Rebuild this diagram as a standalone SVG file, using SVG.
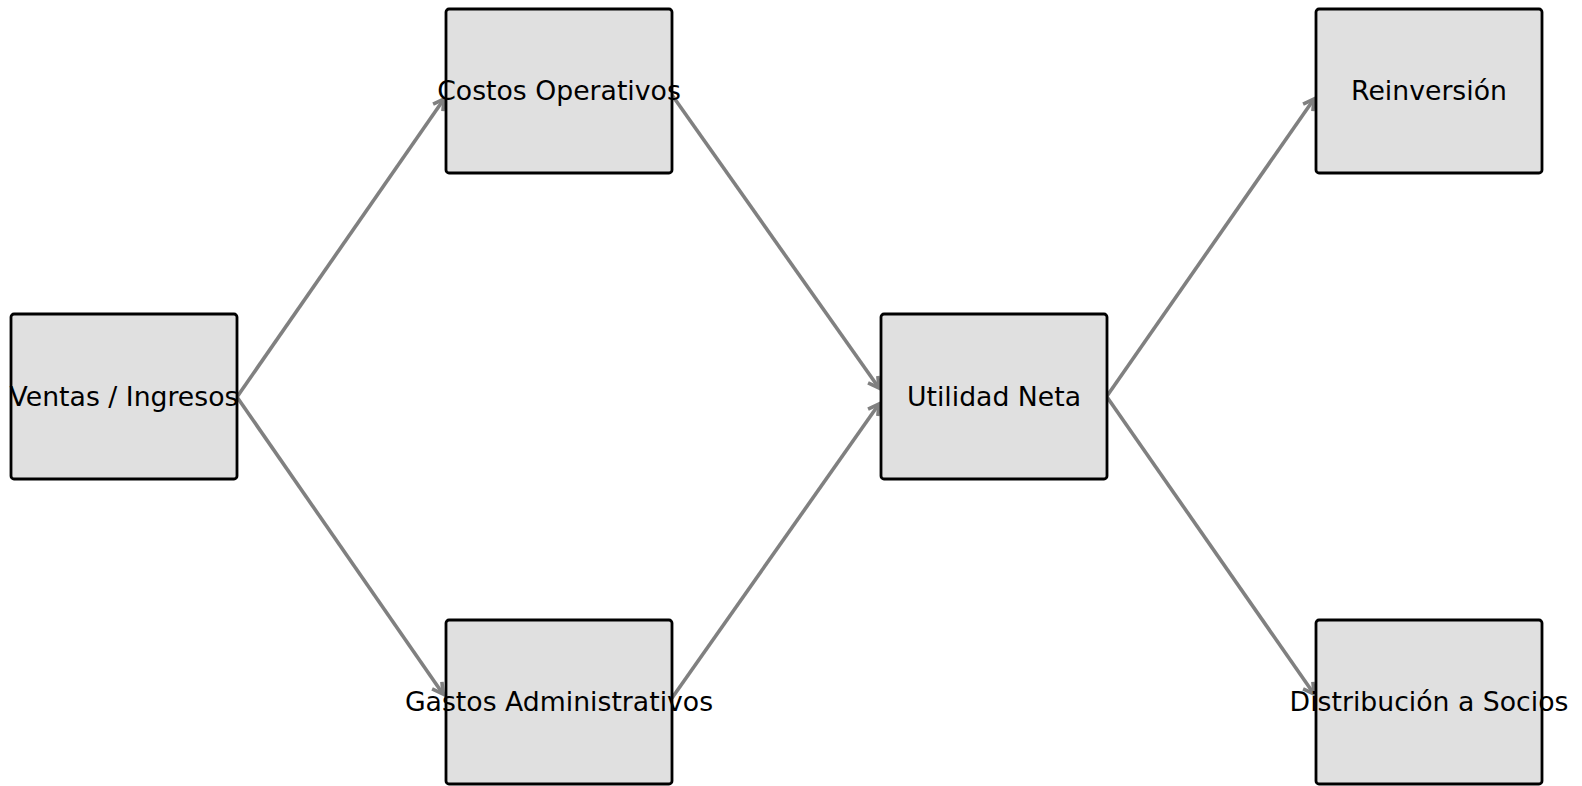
<svg xmlns="http://www.w3.org/2000/svg" width="1582" height="786" viewBox="0 0 1582 786">
<style>
.box{fill:#e0e0e0;stroke:#000;stroke-width:2.8}
.lbl{font-family:"DejaVu Sans",sans-serif;font-size:26.7px;fill:#000;text-anchor:middle}
.edge{stroke:#808080;stroke-width:3.6;fill:none;marker-end:url(#arr)}
</style>
<defs>
<marker id="arr" markerUnits="userSpaceOnUse" markerWidth="18" markerHeight="18" viewBox="-14 -9 18 18" refX="0" refY="0" orient="auto">
<path d="M-10.5,-6 L0,0 L-10.5,6" fill="none" stroke="#808080" stroke-width="3.6" stroke-linejoin="miter"/>
</marker>
</defs>
<rect width="1582" height="786" fill="#fff"/>
<g id="connectors">
<line class="edge" x1="237" y1="397" x2="444" y2="99"/>
<line class="edge" x1="237" y1="397" x2="443" y2="694"/>
<line class="edge" x1="672" y1="95" x2="879" y2="388"/>
<line class="edge" x1="672" y1="698" x2="879" y2="404"/>
<line class="edge" x1="1107" y1="396" x2="1314" y2="99"/>
<line class="edge" x1="1107" y1="397" x2="1314" y2="694"/>
</g>
<g id="ventas"><rect class="box" x="11" y="314" width="226" height="165" rx="3"/><text class="lbl" x="124" y="405.5">Ventas / Ingresos</text></g>
<g id="costos"><rect class="box" x="446" y="9" width="226" height="164" rx="3"/><text class="lbl" x="559" y="99.5">Costos Operativos</text></g>
<g id="gastos"><rect class="box" x="446" y="620" width="226" height="164" rx="3"/><text class="lbl" x="559" y="710.5">Gastos Administrativos</text></g>
<g id="utilidad"><rect class="box" x="881" y="314" width="226" height="165" rx="3"/><text class="lbl" x="994" y="405.5">Utilidad Neta</text></g>
<g id="reinversion"><rect class="box" x="1316" y="9" width="226" height="164" rx="3"/><text class="lbl" x="1429" y="99.5">Reinversión</text></g>
<g id="distribucion"><rect class="box" x="1316" y="620" width="226" height="164" rx="3"/><text class="lbl" x="1429" y="710.5">Distribución a Socios</text></g>
</svg>
